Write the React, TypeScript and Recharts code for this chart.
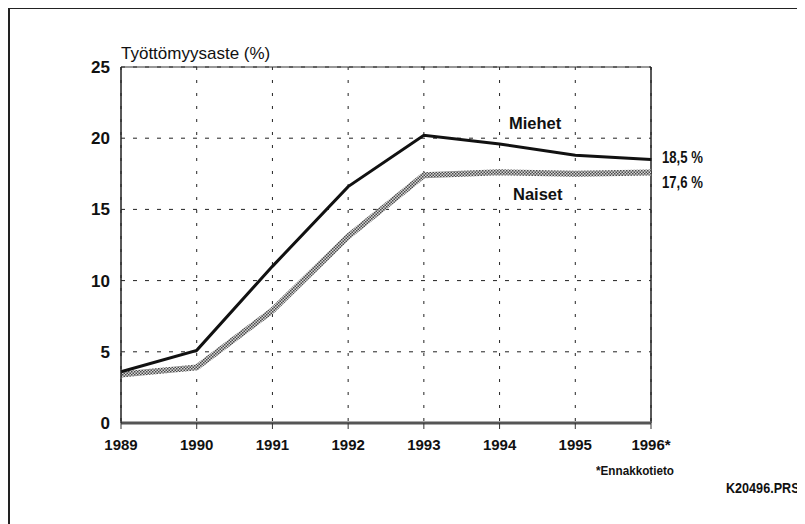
import { CartesianGrid, Line, LineChart, ReferenceLine, XAxis, YAxis } from "recharts";

const years = ["1989", "1990", "1991", "1992", "1993", "1994", "1995", "1996*"];
const miehet = [3.6, 5.1, 11.0, 16.6, 20.2, 19.6, 18.8, 18.5];
const naiset = [3.4, 3.9, 7.9, 13.1, 17.4, 17.6, 17.5, 17.6];
const yTicks = [0, 5, 10, 15, 20, 25];
const endLabels = { miehet: "18,5 %", naiset: "17,6 %" };

const data = years.map((year, i) => ({ year, miehet: miehet[i], naiset: naiset[i] }));
const last = years.length - 1;

const sans = "'Liberation Sans', Arial, sans-serif";

// condensed look: squeeze the text horizontally
function endLabel(text: string, dy: number) {
  return (props: any) => {
    if (props.index !== last) return <g key={props.index} />;
    return (
      <text
        key={props.index}
        transform={`translate(${props.x + 11},${props.y + dy}) scale(0.82,1)`}
        dominantBaseline="central"
        fontFamily={sans}
        fontWeight="bold"
        fontSize={16}
        fill="#111"
      >
        {text}
      </text>
    );
  };
}

const note = { position: "absolute" as const, fontFamily: sans, color: "#111", transformOrigin: "0 0" };

export default function App() {
  return (
    <div style={{ position: "relative", width: 790, height: 516 }}>
      <div style={{ position: "absolute", left: 0, top: -1, width: 797, height: 2, background: "#222" }} />
      <div style={{ position: "absolute", left: 0, top: -1, width: 2, height: 517, background: "#222" }} />
      <div style={{ ...note, left: 113, top: 36.5, fontSize: 17, lineHeight: "17px" }}>Työttömyysaste (%)</div>
      <div style={{ ...note, left: 501, top: 107, fontWeight: "bold", fontSize: 16.5, lineHeight: "16.5px" }}>Miehet</div>
      <div style={{ ...note, left: 505, top: 177.5, fontWeight: "bold", fontSize: 16.5, lineHeight: "16.5px" }}>Naiset</div>
      <div style={{ ...note, left: 588, top: 456, fontWeight: "bold", fontSize: 13, lineHeight: "13px", transform: "scaleX(0.9)" }}>
        *Ennakkotieto
      </div>
      <div style={{ ...note, left: 718, top: 471.5, fontWeight: "bold", fontSize: 15, lineHeight: "15px", transform: "scaleX(0.84)" }}>
        K20496.PRS
      </div>
      <LineChart width={790} height={500} data={data} margin={{ top: 59, right: 147, left: 0, bottom: 55 }}>
        <defs>
          <pattern id="hatch" width="3" height="3" patternUnits="userSpaceOnUse">
            <rect width="3" height="3" fill="#d6d6d6" />
            <rect x="0" y="0" width="1.5" height="1.5" fill="#4a4a4a" />
            <rect x="1.5" y="1.5" width="1.5" height="1.5" fill="#4a4a4a" />
          </pattern>
        </defs>
        <CartesianGrid horizontal vertical={false} stroke="#222" strokeDasharray="4 8" />
        <CartesianGrid horizontal={false} vertical stroke="#222" strokeDasharray="3 10" />
        <ReferenceLine y={25} stroke="#333" strokeWidth={1} />
        <ReferenceLine x="1996*" stroke="#222" strokeWidth={1.5} />
        <XAxis
          dataKey="year"
          height={30}
          axisLine={{ stroke: "#555", strokeWidth: 3 }}
          tickLine={{ stroke: "#333" }}
          tickSize={6}
          tickMargin={10}
          tick={{ fill: "#111", fontSize: 15, fontWeight: "bold", fontFamily: sans }}
          interval={0}
        />
        <YAxis
          width={113}
          domain={[0, 25]}
          ticks={yTicks}
          axisLine={{ stroke: "#222", strokeWidth: 1.5 }}
          tickLine={false}
          tickSize={0}
          tickMargin={11}
          tick={{ fill: "#111", fontSize: 17, fontWeight: "bold", fontFamily: sans }}
        />
        <Line
          dataKey="naiset"
          stroke="url(#hatch)"
          strokeWidth={6}
          dot={false}
          activeDot={false}
          isAnimationActive={false}
          label={endLabel(endLabels.naiset, 10)}
        />
        <Line
          dataKey="miehet"
          stroke="#111"
          strokeWidth={3}
          dot={false}
          activeDot={false}
          isAnimationActive={false}
          label={endLabel(endLabels.miehet, -2)}
        />
      </LineChart>
    </div>
  );
}
